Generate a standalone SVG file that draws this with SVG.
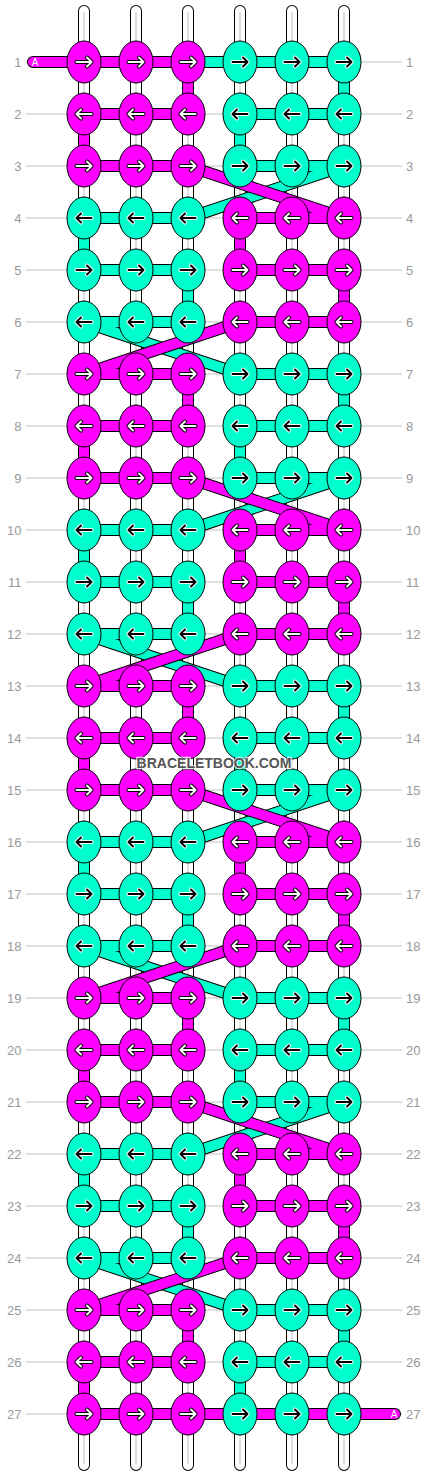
<svg xmlns="http://www.w3.org/2000/svg" xmlns:xlink="http://www.w3.org/1999/xlink" width="428" height="1476" viewBox="0 0 428 1476">
<style>
.grid{stroke:#c0c0c0;stroke-width:1;fill:none}
.lbl{font-family:"Liberation Sans",Arial,sans-serif;font-size:13px;fill:#999}
.l{text-anchor:end}
.warpo{stroke:#000;stroke-width:12;stroke-linecap:round;fill:none}
.warpi{stroke:#fff;stroke-width:10;stroke-linecap:round;fill:none}
.warpc{stroke:#c8c8c8;stroke-width:1.2;fill:none}
.tho{stroke:#000;stroke-width:12;fill:none;stroke-linejoin:round;stroke-linecap:round}
.thm{stroke:#ff00ff;stroke-width:10;fill:none;stroke-linejoin:round;stroke-linecap:round}
.tht{stroke:#00ffcc;stroke-width:10;fill:none;stroke-linejoin:round;stroke-linecap:round}
.m{fill:#ff00ff;stroke:#000;stroke-width:1}
.t{fill:#00ffcc;stroke:#000;stroke-width:1}
.ok{stroke:#000;stroke-width:4;fill:none;stroke-linecap:round;stroke-linejoin:round}
.ow{stroke:#fff;stroke-width:4;fill:none;stroke-linecap:round;stroke-linejoin:round}
.iw{stroke:#fff;stroke-width:2;fill:none;stroke-linecap:round;stroke-linejoin:round}
.ik{stroke:#000;stroke-width:2;fill:none;stroke-linecap:round;stroke-linejoin:round}
.a{font-family:"Liberation Sans",Arial,sans-serif;font-size:10px;fill:#fff}
.wm{font-family:"Liberation Sans",Arial,sans-serif;font-size:14px;font-weight:bold;fill:#555;stroke:#fff;stroke-width:2.5;stroke-opacity:0.75;paint-order:stroke;text-anchor:middle}
</style>
<defs>
<path id="pR" d="M-7.5 0H7.5M3-4.5L7.5 0L3 4.5"/>
<path id="pL" d="M7.5 0H-7.5M-3-4.5L-7.5 0L-3 4.5"/>
<g id="Rw"><use href="#pR" class="ok"/><use href="#pR" class="iw"/></g>
<g id="Lw"><use href="#pL" class="ok"/><use href="#pL" class="iw"/></g>
<g id="Rk"><use href="#pR" class="ow"/><use href="#pR" class="ik"/></g>
<g id="Lk"><use href="#pL" class="ow"/><use href="#pL" class="ik"/></g>
</defs>
<rect width="428" height="1476" fill="#fff"/>
<g id="rowlines" class="grid">
<path d="M26 62H402M26 114H402M26 166H402M26 218H402M26 270H402M26 322H402M26 374H402M26 426H402M26 478H402M26 530H402M26 582H402M26 634H402M26 686H402M26 738H402M26 790H402M26 842H402M26 894H402M26 946H402M26 998H402M26 1050H402M26 1102H402M26 1154H402M26 1206H402M26 1258H402M26 1310H402M26 1362H402M26 1414H402"/>
</g>
<g id="labels-left" class="lbl l">
<text x="21.5" y="66.5">1</text><text x="21.5" y="118.5">2</text><text x="21.5" y="170.5">3</text><text x="21.5" y="222.5">4</text><text x="21.5" y="274.5">5</text><text x="21.5" y="326.5">6</text><text x="21.5" y="378.5">7</text><text x="21.5" y="430.5">8</text><text x="21.5" y="482.5">9</text><text x="21.5" y="534.5">10</text><text x="21.5" y="586.5">11</text><text x="21.5" y="638.5">12</text><text x="21.5" y="690.5">13</text><text x="21.5" y="742.5">14</text><text x="21.5" y="794.5">15</text><text x="21.5" y="846.5">16</text><text x="21.5" y="898.5">17</text><text x="21.5" y="950.5">18</text><text x="21.5" y="1002.5">19</text><text x="21.5" y="1054.5">20</text><text x="21.5" y="1106.5">21</text><text x="21.5" y="1158.5">22</text><text x="21.5" y="1210.5">23</text><text x="21.5" y="1262.5">24</text><text x="21.5" y="1314.5">25</text><text x="21.5" y="1366.5">26</text><text x="21.5" y="1418.5">27</text>
</g>
<g id="labels-right" class="lbl">
<text x="406" y="66.5">1</text><text x="406" y="118.5">2</text><text x="406" y="170.5">3</text><text x="406" y="222.5">4</text><text x="406" y="274.5">5</text><text x="406" y="326.5">6</text><text x="406" y="378.5">7</text><text x="406" y="430.5">8</text><text x="406" y="482.5">9</text><text x="406" y="534.5">10</text><text x="406" y="586.5">11</text><text x="406" y="638.5">12</text><text x="406" y="690.5">13</text><text x="406" y="742.5">14</text><text x="406" y="794.5">15</text><text x="406" y="846.5">16</text><text x="406" y="898.5">17</text><text x="406" y="950.5">18</text><text x="406" y="1002.5">19</text><text x="406" y="1054.5">20</text><text x="406" y="1106.5">21</text><text x="406" y="1158.5">22</text><text x="406" y="1210.5">23</text><text x="406" y="1262.5">24</text><text x="406" y="1314.5">25</text><text x="406" y="1366.5">26</text><text x="406" y="1418.5">27</text>
</g>
<g id="warp">
<path class="warpo" d="M84 11V1465M136 11V1465M188 11V1465M240 11V1465M292 11V1465M344 11V1465"/>
<path class="warpi" d="M84 11V1465M136 11V1465M188 11V1465M240 11V1465M292 11V1465M344 11V1465"/>
<path class="warpc" d="M84 12V1464M136 12V1464M188 12V1464M240 12V1464M292 12V1464M344 12V1464"/>
</g>
<g id="connectors">
<path id="thread-t-outline" class="tho" d="M188 62H344V114H240V166H344L188 218H84V270H188V322H84L240 374H344V426H240V478H344L188 530H84V582H188V634H84L240 686H344V738H240V790H344L188 842H84V894H188V946H84L240 998H344V1050H240V1102H344L188 1154H84V1206H188V1258H84L240 1310H344V1362H240V1414H344"/>
<path id="thread-t" class="tht" d="M188 62H344V114H240V166H344L188 218H84V270H188V322H84L240 374H344V426H240V478H344L188 530H84V582H188V634H84L240 686H344V738H240V790H344L188 842H84V894H188V946H84L240 998H344V1050H240V1102H344L188 1154H84V1206H188V1258H84L240 1310H344V1362H240V1414H344"/>
<path id="thread-m-outline" class="tho" d="M33 62H188V114H84V166H188L344 218H240V270H344V322H240L84 374H188V426H84V478H188L344 530H240V582H344V634H240L84 686H188V738H84V790H188L344 842H240V894H344V946H240L84 998H188V1050H84V1102H188L344 1154H240V1206H344V1258H240L84 1310H188V1362H84V1414H395"/>
<path id="thread-m" class="thm" d="M33 62H188V114H84V166H188L344 218H240V270H344V322H240L84 374H188V426H84V478H188L344 530H240V582H344V634H240L84 686H188V738H84V790H188L344 842H240V894H344V946H240L84 998H188V1050H84V1102H188L344 1154H240V1206H344V1258H240L84 1310H188V1362H84V1414H395"/>
<text class="a" x="31.7" y="65.7">A</text>
<text class="a" x="390.7" y="1417.7">A</text>
</g>
<g id="nodes">
<g id="r1c1"><ellipse class="m" cx="84" cy="62" rx="17" ry="21"/><use href="#Rw" x="84" y="62"/></g>
<g id="r1c2"><ellipse class="m" cx="136" cy="62" rx="17" ry="21"/><use href="#Rw" x="136" y="62"/></g>
<g id="r1c3"><ellipse class="m" cx="188" cy="62" rx="17" ry="21"/><use href="#Rw" x="188" y="62"/></g>
<g id="r1c4"><ellipse class="t" cx="240" cy="62" rx="17" ry="21"/><use href="#Rk" x="240" y="62"/></g>
<g id="r1c5"><ellipse class="t" cx="292" cy="62" rx="17" ry="21"/><use href="#Rk" x="292" y="62"/></g>
<g id="r1c6"><ellipse class="t" cx="344" cy="62" rx="17" ry="21"/><use href="#Rk" x="344" y="62"/></g>
<g id="r2c1"><ellipse class="m" cx="84" cy="114" rx="17" ry="21"/><use href="#Lw" x="84" y="114"/></g>
<g id="r2c2"><ellipse class="m" cx="136" cy="114" rx="17" ry="21"/><use href="#Lw" x="136" y="114"/></g>
<g id="r2c3"><ellipse class="m" cx="188" cy="114" rx="17" ry="21"/><use href="#Lw" x="188" y="114"/></g>
<g id="r2c4"><ellipse class="t" cx="240" cy="114" rx="17" ry="21"/><use href="#Lk" x="240" y="114"/></g>
<g id="r2c5"><ellipse class="t" cx="292" cy="114" rx="17" ry="21"/><use href="#Lk" x="292" y="114"/></g>
<g id="r2c6"><ellipse class="t" cx="344" cy="114" rx="17" ry="21"/><use href="#Lk" x="344" y="114"/></g>
<g id="r3c1"><ellipse class="m" cx="84" cy="166" rx="17" ry="21"/><use href="#Rw" x="84" y="166"/></g>
<g id="r3c2"><ellipse class="m" cx="136" cy="166" rx="17" ry="21"/><use href="#Rw" x="136" y="166"/></g>
<g id="r3c3"><ellipse class="m" cx="188" cy="166" rx="17" ry="21"/><use href="#Rw" x="188" y="166"/></g>
<g id="r3c4"><ellipse class="t" cx="240" cy="166" rx="17" ry="21"/><use href="#Rk" x="240" y="166"/></g>
<g id="r3c5"><ellipse class="t" cx="292" cy="166" rx="17" ry="21"/><use href="#Rk" x="292" y="166"/></g>
<g id="r3c6"><ellipse class="t" cx="344" cy="166" rx="17" ry="21"/><use href="#Rk" x="344" y="166"/></g>
<g id="r4c1"><ellipse class="t" cx="84" cy="218" rx="17" ry="21"/><use href="#Lk" x="84" y="218"/></g>
<g id="r4c2"><ellipse class="t" cx="136" cy="218" rx="17" ry="21"/><use href="#Lk" x="136" y="218"/></g>
<g id="r4c3"><ellipse class="t" cx="188" cy="218" rx="17" ry="21"/><use href="#Lk" x="188" y="218"/></g>
<g id="r4c4"><ellipse class="m" cx="240" cy="218" rx="17" ry="21"/><use href="#Lw" x="240" y="218"/></g>
<g id="r4c5"><ellipse class="m" cx="292" cy="218" rx="17" ry="21"/><use href="#Lw" x="292" y="218"/></g>
<g id="r4c6"><ellipse class="m" cx="344" cy="218" rx="17" ry="21"/><use href="#Lw" x="344" y="218"/></g>
<g id="r5c1"><ellipse class="t" cx="84" cy="270" rx="17" ry="21"/><use href="#Rk" x="84" y="270"/></g>
<g id="r5c2"><ellipse class="t" cx="136" cy="270" rx="17" ry="21"/><use href="#Rk" x="136" y="270"/></g>
<g id="r5c3"><ellipse class="t" cx="188" cy="270" rx="17" ry="21"/><use href="#Rk" x="188" y="270"/></g>
<g id="r5c4"><ellipse class="m" cx="240" cy="270" rx="17" ry="21"/><use href="#Rw" x="240" y="270"/></g>
<g id="r5c5"><ellipse class="m" cx="292" cy="270" rx="17" ry="21"/><use href="#Rw" x="292" y="270"/></g>
<g id="r5c6"><ellipse class="m" cx="344" cy="270" rx="17" ry="21"/><use href="#Rw" x="344" y="270"/></g>
<g id="r6c1"><ellipse class="t" cx="84" cy="322" rx="17" ry="21"/><use href="#Lk" x="84" y="322"/></g>
<g id="r6c2"><ellipse class="t" cx="136" cy="322" rx="17" ry="21"/><use href="#Lk" x="136" y="322"/></g>
<g id="r6c3"><ellipse class="t" cx="188" cy="322" rx="17" ry="21"/><use href="#Lk" x="188" y="322"/></g>
<g id="r6c4"><ellipse class="m" cx="240" cy="322" rx="17" ry="21"/><use href="#Lw" x="240" y="322"/></g>
<g id="r6c5"><ellipse class="m" cx="292" cy="322" rx="17" ry="21"/><use href="#Lw" x="292" y="322"/></g>
<g id="r6c6"><ellipse class="m" cx="344" cy="322" rx="17" ry="21"/><use href="#Lw" x="344" y="322"/></g>
<g id="r7c1"><ellipse class="m" cx="84" cy="374" rx="17" ry="21"/><use href="#Rw" x="84" y="374"/></g>
<g id="r7c2"><ellipse class="m" cx="136" cy="374" rx="17" ry="21"/><use href="#Rw" x="136" y="374"/></g>
<g id="r7c3"><ellipse class="m" cx="188" cy="374" rx="17" ry="21"/><use href="#Rw" x="188" y="374"/></g>
<g id="r7c4"><ellipse class="t" cx="240" cy="374" rx="17" ry="21"/><use href="#Rk" x="240" y="374"/></g>
<g id="r7c5"><ellipse class="t" cx="292" cy="374" rx="17" ry="21"/><use href="#Rk" x="292" y="374"/></g>
<g id="r7c6"><ellipse class="t" cx="344" cy="374" rx="17" ry="21"/><use href="#Rk" x="344" y="374"/></g>
<g id="r8c1"><ellipse class="m" cx="84" cy="426" rx="17" ry="21"/><use href="#Lw" x="84" y="426"/></g>
<g id="r8c2"><ellipse class="m" cx="136" cy="426" rx="17" ry="21"/><use href="#Lw" x="136" y="426"/></g>
<g id="r8c3"><ellipse class="m" cx="188" cy="426" rx="17" ry="21"/><use href="#Lw" x="188" y="426"/></g>
<g id="r8c4"><ellipse class="t" cx="240" cy="426" rx="17" ry="21"/><use href="#Lk" x="240" y="426"/></g>
<g id="r8c5"><ellipse class="t" cx="292" cy="426" rx="17" ry="21"/><use href="#Lk" x="292" y="426"/></g>
<g id="r8c6"><ellipse class="t" cx="344" cy="426" rx="17" ry="21"/><use href="#Lk" x="344" y="426"/></g>
<g id="r9c1"><ellipse class="m" cx="84" cy="478" rx="17" ry="21"/><use href="#Rw" x="84" y="478"/></g>
<g id="r9c2"><ellipse class="m" cx="136" cy="478" rx="17" ry="21"/><use href="#Rw" x="136" y="478"/></g>
<g id="r9c3"><ellipse class="m" cx="188" cy="478" rx="17" ry="21"/><use href="#Rw" x="188" y="478"/></g>
<g id="r9c4"><ellipse class="t" cx="240" cy="478" rx="17" ry="21"/><use href="#Rk" x="240" y="478"/></g>
<g id="r9c5"><ellipse class="t" cx="292" cy="478" rx="17" ry="21"/><use href="#Rk" x="292" y="478"/></g>
<g id="r9c6"><ellipse class="t" cx="344" cy="478" rx="17" ry="21"/><use href="#Rk" x="344" y="478"/></g>
<g id="r10c1"><ellipse class="t" cx="84" cy="530" rx="17" ry="21"/><use href="#Lk" x="84" y="530"/></g>
<g id="r10c2"><ellipse class="t" cx="136" cy="530" rx="17" ry="21"/><use href="#Lk" x="136" y="530"/></g>
<g id="r10c3"><ellipse class="t" cx="188" cy="530" rx="17" ry="21"/><use href="#Lk" x="188" y="530"/></g>
<g id="r10c4"><ellipse class="m" cx="240" cy="530" rx="17" ry="21"/><use href="#Lw" x="240" y="530"/></g>
<g id="r10c5"><ellipse class="m" cx="292" cy="530" rx="17" ry="21"/><use href="#Lw" x="292" y="530"/></g>
<g id="r10c6"><ellipse class="m" cx="344" cy="530" rx="17" ry="21"/><use href="#Lw" x="344" y="530"/></g>
<g id="r11c1"><ellipse class="t" cx="84" cy="582" rx="17" ry="21"/><use href="#Rk" x="84" y="582"/></g>
<g id="r11c2"><ellipse class="t" cx="136" cy="582" rx="17" ry="21"/><use href="#Rk" x="136" y="582"/></g>
<g id="r11c3"><ellipse class="t" cx="188" cy="582" rx="17" ry="21"/><use href="#Rk" x="188" y="582"/></g>
<g id="r11c4"><ellipse class="m" cx="240" cy="582" rx="17" ry="21"/><use href="#Rw" x="240" y="582"/></g>
<g id="r11c5"><ellipse class="m" cx="292" cy="582" rx="17" ry="21"/><use href="#Rw" x="292" y="582"/></g>
<g id="r11c6"><ellipse class="m" cx="344" cy="582" rx="17" ry="21"/><use href="#Rw" x="344" y="582"/></g>
<g id="r12c1"><ellipse class="t" cx="84" cy="634" rx="17" ry="21"/><use href="#Lk" x="84" y="634"/></g>
<g id="r12c2"><ellipse class="t" cx="136" cy="634" rx="17" ry="21"/><use href="#Lk" x="136" y="634"/></g>
<g id="r12c3"><ellipse class="t" cx="188" cy="634" rx="17" ry="21"/><use href="#Lk" x="188" y="634"/></g>
<g id="r12c4"><ellipse class="m" cx="240" cy="634" rx="17" ry="21"/><use href="#Lw" x="240" y="634"/></g>
<g id="r12c5"><ellipse class="m" cx="292" cy="634" rx="17" ry="21"/><use href="#Lw" x="292" y="634"/></g>
<g id="r12c6"><ellipse class="m" cx="344" cy="634" rx="17" ry="21"/><use href="#Lw" x="344" y="634"/></g>
<g id="r13c1"><ellipse class="m" cx="84" cy="686" rx="17" ry="21"/><use href="#Rw" x="84" y="686"/></g>
<g id="r13c2"><ellipse class="m" cx="136" cy="686" rx="17" ry="21"/><use href="#Rw" x="136" y="686"/></g>
<g id="r13c3"><ellipse class="m" cx="188" cy="686" rx="17" ry="21"/><use href="#Rw" x="188" y="686"/></g>
<g id="r13c4"><ellipse class="t" cx="240" cy="686" rx="17" ry="21"/><use href="#Rk" x="240" y="686"/></g>
<g id="r13c5"><ellipse class="t" cx="292" cy="686" rx="17" ry="21"/><use href="#Rk" x="292" y="686"/></g>
<g id="r13c6"><ellipse class="t" cx="344" cy="686" rx="17" ry="21"/><use href="#Rk" x="344" y="686"/></g>
<g id="r14c1"><ellipse class="m" cx="84" cy="738" rx="17" ry="21"/><use href="#Lw" x="84" y="738"/></g>
<g id="r14c2"><ellipse class="m" cx="136" cy="738" rx="17" ry="21"/><use href="#Lw" x="136" y="738"/></g>
<g id="r14c3"><ellipse class="m" cx="188" cy="738" rx="17" ry="21"/><use href="#Lw" x="188" y="738"/></g>
<g id="r14c4"><ellipse class="t" cx="240" cy="738" rx="17" ry="21"/><use href="#Lk" x="240" y="738"/></g>
<g id="r14c5"><ellipse class="t" cx="292" cy="738" rx="17" ry="21"/><use href="#Lk" x="292" y="738"/></g>
<g id="r14c6"><ellipse class="t" cx="344" cy="738" rx="17" ry="21"/><use href="#Lk" x="344" y="738"/></g>
<g id="r15c1"><ellipse class="m" cx="84" cy="790" rx="17" ry="21"/><use href="#Rw" x="84" y="790"/></g>
<g id="r15c2"><ellipse class="m" cx="136" cy="790" rx="17" ry="21"/><use href="#Rw" x="136" y="790"/></g>
<g id="r15c3"><ellipse class="m" cx="188" cy="790" rx="17" ry="21"/><use href="#Rw" x="188" y="790"/></g>
<g id="r15c4"><ellipse class="t" cx="240" cy="790" rx="17" ry="21"/><use href="#Rk" x="240" y="790"/></g>
<g id="r15c5"><ellipse class="t" cx="292" cy="790" rx="17" ry="21"/><use href="#Rk" x="292" y="790"/></g>
<g id="r15c6"><ellipse class="t" cx="344" cy="790" rx="17" ry="21"/><use href="#Rk" x="344" y="790"/></g>
<g id="r16c1"><ellipse class="t" cx="84" cy="842" rx="17" ry="21"/><use href="#Lk" x="84" y="842"/></g>
<g id="r16c2"><ellipse class="t" cx="136" cy="842" rx="17" ry="21"/><use href="#Lk" x="136" y="842"/></g>
<g id="r16c3"><ellipse class="t" cx="188" cy="842" rx="17" ry="21"/><use href="#Lk" x="188" y="842"/></g>
<g id="r16c4"><ellipse class="m" cx="240" cy="842" rx="17" ry="21"/><use href="#Lw" x="240" y="842"/></g>
<g id="r16c5"><ellipse class="m" cx="292" cy="842" rx="17" ry="21"/><use href="#Lw" x="292" y="842"/></g>
<g id="r16c6"><ellipse class="m" cx="344" cy="842" rx="17" ry="21"/><use href="#Lw" x="344" y="842"/></g>
<g id="r17c1"><ellipse class="t" cx="84" cy="894" rx="17" ry="21"/><use href="#Rk" x="84" y="894"/></g>
<g id="r17c2"><ellipse class="t" cx="136" cy="894" rx="17" ry="21"/><use href="#Rk" x="136" y="894"/></g>
<g id="r17c3"><ellipse class="t" cx="188" cy="894" rx="17" ry="21"/><use href="#Rk" x="188" y="894"/></g>
<g id="r17c4"><ellipse class="m" cx="240" cy="894" rx="17" ry="21"/><use href="#Rw" x="240" y="894"/></g>
<g id="r17c5"><ellipse class="m" cx="292" cy="894" rx="17" ry="21"/><use href="#Rw" x="292" y="894"/></g>
<g id="r17c6"><ellipse class="m" cx="344" cy="894" rx="17" ry="21"/><use href="#Rw" x="344" y="894"/></g>
<g id="r18c1"><ellipse class="t" cx="84" cy="946" rx="17" ry="21"/><use href="#Lk" x="84" y="946"/></g>
<g id="r18c2"><ellipse class="t" cx="136" cy="946" rx="17" ry="21"/><use href="#Lk" x="136" y="946"/></g>
<g id="r18c3"><ellipse class="t" cx="188" cy="946" rx="17" ry="21"/><use href="#Lk" x="188" y="946"/></g>
<g id="r18c4"><ellipse class="m" cx="240" cy="946" rx="17" ry="21"/><use href="#Lw" x="240" y="946"/></g>
<g id="r18c5"><ellipse class="m" cx="292" cy="946" rx="17" ry="21"/><use href="#Lw" x="292" y="946"/></g>
<g id="r18c6"><ellipse class="m" cx="344" cy="946" rx="17" ry="21"/><use href="#Lw" x="344" y="946"/></g>
<g id="r19c1"><ellipse class="m" cx="84" cy="998" rx="17" ry="21"/><use href="#Rw" x="84" y="998"/></g>
<g id="r19c2"><ellipse class="m" cx="136" cy="998" rx="17" ry="21"/><use href="#Rw" x="136" y="998"/></g>
<g id="r19c3"><ellipse class="m" cx="188" cy="998" rx="17" ry="21"/><use href="#Rw" x="188" y="998"/></g>
<g id="r19c4"><ellipse class="t" cx="240" cy="998" rx="17" ry="21"/><use href="#Rk" x="240" y="998"/></g>
<g id="r19c5"><ellipse class="t" cx="292" cy="998" rx="17" ry="21"/><use href="#Rk" x="292" y="998"/></g>
<g id="r19c6"><ellipse class="t" cx="344" cy="998" rx="17" ry="21"/><use href="#Rk" x="344" y="998"/></g>
<g id="r20c1"><ellipse class="m" cx="84" cy="1050" rx="17" ry="21"/><use href="#Lw" x="84" y="1050"/></g>
<g id="r20c2"><ellipse class="m" cx="136" cy="1050" rx="17" ry="21"/><use href="#Lw" x="136" y="1050"/></g>
<g id="r20c3"><ellipse class="m" cx="188" cy="1050" rx="17" ry="21"/><use href="#Lw" x="188" y="1050"/></g>
<g id="r20c4"><ellipse class="t" cx="240" cy="1050" rx="17" ry="21"/><use href="#Lk" x="240" y="1050"/></g>
<g id="r20c5"><ellipse class="t" cx="292" cy="1050" rx="17" ry="21"/><use href="#Lk" x="292" y="1050"/></g>
<g id="r20c6"><ellipse class="t" cx="344" cy="1050" rx="17" ry="21"/><use href="#Lk" x="344" y="1050"/></g>
<g id="r21c1"><ellipse class="m" cx="84" cy="1102" rx="17" ry="21"/><use href="#Rw" x="84" y="1102"/></g>
<g id="r21c2"><ellipse class="m" cx="136" cy="1102" rx="17" ry="21"/><use href="#Rw" x="136" y="1102"/></g>
<g id="r21c3"><ellipse class="m" cx="188" cy="1102" rx="17" ry="21"/><use href="#Rw" x="188" y="1102"/></g>
<g id="r21c4"><ellipse class="t" cx="240" cy="1102" rx="17" ry="21"/><use href="#Rk" x="240" y="1102"/></g>
<g id="r21c5"><ellipse class="t" cx="292" cy="1102" rx="17" ry="21"/><use href="#Rk" x="292" y="1102"/></g>
<g id="r21c6"><ellipse class="t" cx="344" cy="1102" rx="17" ry="21"/><use href="#Rk" x="344" y="1102"/></g>
<g id="r22c1"><ellipse class="t" cx="84" cy="1154" rx="17" ry="21"/><use href="#Lk" x="84" y="1154"/></g>
<g id="r22c2"><ellipse class="t" cx="136" cy="1154" rx="17" ry="21"/><use href="#Lk" x="136" y="1154"/></g>
<g id="r22c3"><ellipse class="t" cx="188" cy="1154" rx="17" ry="21"/><use href="#Lk" x="188" y="1154"/></g>
<g id="r22c4"><ellipse class="m" cx="240" cy="1154" rx="17" ry="21"/><use href="#Lw" x="240" y="1154"/></g>
<g id="r22c5"><ellipse class="m" cx="292" cy="1154" rx="17" ry="21"/><use href="#Lw" x="292" y="1154"/></g>
<g id="r22c6"><ellipse class="m" cx="344" cy="1154" rx="17" ry="21"/><use href="#Lw" x="344" y="1154"/></g>
<g id="r23c1"><ellipse class="t" cx="84" cy="1206" rx="17" ry="21"/><use href="#Rk" x="84" y="1206"/></g>
<g id="r23c2"><ellipse class="t" cx="136" cy="1206" rx="17" ry="21"/><use href="#Rk" x="136" y="1206"/></g>
<g id="r23c3"><ellipse class="t" cx="188" cy="1206" rx="17" ry="21"/><use href="#Rk" x="188" y="1206"/></g>
<g id="r23c4"><ellipse class="m" cx="240" cy="1206" rx="17" ry="21"/><use href="#Rw" x="240" y="1206"/></g>
<g id="r23c5"><ellipse class="m" cx="292" cy="1206" rx="17" ry="21"/><use href="#Rw" x="292" y="1206"/></g>
<g id="r23c6"><ellipse class="m" cx="344" cy="1206" rx="17" ry="21"/><use href="#Rw" x="344" y="1206"/></g>
<g id="r24c1"><ellipse class="t" cx="84" cy="1258" rx="17" ry="21"/><use href="#Lk" x="84" y="1258"/></g>
<g id="r24c2"><ellipse class="t" cx="136" cy="1258" rx="17" ry="21"/><use href="#Lk" x="136" y="1258"/></g>
<g id="r24c3"><ellipse class="t" cx="188" cy="1258" rx="17" ry="21"/><use href="#Lk" x="188" y="1258"/></g>
<g id="r24c4"><ellipse class="m" cx="240" cy="1258" rx="17" ry="21"/><use href="#Lw" x="240" y="1258"/></g>
<g id="r24c5"><ellipse class="m" cx="292" cy="1258" rx="17" ry="21"/><use href="#Lw" x="292" y="1258"/></g>
<g id="r24c6"><ellipse class="m" cx="344" cy="1258" rx="17" ry="21"/><use href="#Lw" x="344" y="1258"/></g>
<g id="r25c1"><ellipse class="m" cx="84" cy="1310" rx="17" ry="21"/><use href="#Rw" x="84" y="1310"/></g>
<g id="r25c2"><ellipse class="m" cx="136" cy="1310" rx="17" ry="21"/><use href="#Rw" x="136" y="1310"/></g>
<g id="r25c3"><ellipse class="m" cx="188" cy="1310" rx="17" ry="21"/><use href="#Rw" x="188" y="1310"/></g>
<g id="r25c4"><ellipse class="t" cx="240" cy="1310" rx="17" ry="21"/><use href="#Rk" x="240" y="1310"/></g>
<g id="r25c5"><ellipse class="t" cx="292" cy="1310" rx="17" ry="21"/><use href="#Rk" x="292" y="1310"/></g>
<g id="r25c6"><ellipse class="t" cx="344" cy="1310" rx="17" ry="21"/><use href="#Rk" x="344" y="1310"/></g>
<g id="r26c1"><ellipse class="m" cx="84" cy="1362" rx="17" ry="21"/><use href="#Lw" x="84" y="1362"/></g>
<g id="r26c2"><ellipse class="m" cx="136" cy="1362" rx="17" ry="21"/><use href="#Lw" x="136" y="1362"/></g>
<g id="r26c3"><ellipse class="m" cx="188" cy="1362" rx="17" ry="21"/><use href="#Lw" x="188" y="1362"/></g>
<g id="r26c4"><ellipse class="t" cx="240" cy="1362" rx="17" ry="21"/><use href="#Lk" x="240" y="1362"/></g>
<g id="r26c5"><ellipse class="t" cx="292" cy="1362" rx="17" ry="21"/><use href="#Lk" x="292" y="1362"/></g>
<g id="r26c6"><ellipse class="t" cx="344" cy="1362" rx="17" ry="21"/><use href="#Lk" x="344" y="1362"/></g>
<g id="r27c1"><ellipse class="m" cx="84" cy="1414" rx="17" ry="21"/><use href="#Rw" x="84" y="1414"/></g>
<g id="r27c2"><ellipse class="m" cx="136" cy="1414" rx="17" ry="21"/><use href="#Rw" x="136" y="1414"/></g>
<g id="r27c3"><ellipse class="m" cx="188" cy="1414" rx="17" ry="21"/><use href="#Rw" x="188" y="1414"/></g>
<g id="r27c4"><ellipse class="t" cx="240" cy="1414" rx="17" ry="21"/><use href="#Rk" x="240" y="1414"/></g>
<g id="r27c5"><ellipse class="t" cx="292" cy="1414" rx="17" ry="21"/><use href="#Rk" x="292" y="1414"/></g>
<g id="r27c6"><ellipse class="t" cx="344" cy="1414" rx="17" ry="21"/><use href="#Rk" x="344" y="1414"/></g>
</g>
<text class="wm" x="214" y="768">BRACELETBOOK.COM</text>
</svg>
